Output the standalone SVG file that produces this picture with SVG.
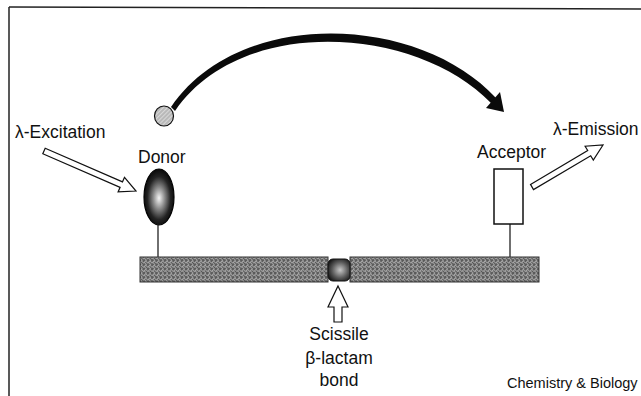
<svg xmlns="http://www.w3.org/2000/svg" width="641" height="396" viewBox="0 0 641 396">
<style>
text{font-family:"Liberation Sans",Arial,Helvetica,sans-serif;font-size:17.5px;fill:#111}
.small{font-size:14.5px}
.hollow{fill:#fff;stroke:#111;stroke-width:1.2;stroke-linejoin:miter}
.stem{stroke:#222;stroke-width:1.3}
.bar{fill:url(#hatch);stroke:#333;stroke-width:1}
</style>
<defs>
<pattern id="hatch" width="6" height="6" patternUnits="userSpaceOnUse" patternTransform="rotate(45)">
<rect width="6" height="6" fill="#a8a8a8"/>
<line x1="1" y1="0" x2="1" y2="3" stroke="#3a3a3a" stroke-width="1.4"/>
<line x1="4" y1="3" x2="4" y2="6" stroke="#3a3a3a" stroke-width="1.4"/>
<line x1="0" y1="4.5" x2="3" y2="4.5" stroke="#555" stroke-width="1.2"/>
<line x1="3" y1="1.5" x2="6" y2="1.5" stroke="#555" stroke-width="1.2"/>
</pattern>
<pattern id="lighthatch" width="3" height="3" patternUnits="userSpaceOnUse" patternTransform="rotate(45)">
<rect width="3" height="3" fill="#d8d8d8"/>
<line x1="1" y1="0" x2="1" y2="3" stroke="#8a8a8a" stroke-width="0.8"/>
</pattern>
<radialGradient id="donorGrad" cx="0.5" cy="0.52" r="0.55">
<stop offset="0" stop-color="#f6f6f6"/>
<stop offset="0.35" stop-color="#8a8a8a"/>
<stop offset="0.7" stop-color="#242424"/>
<stop offset="1" stop-color="#030303"/>
</radialGradient>
<radialGradient id="bondGrad" cx="0.55" cy="0.5" r="0.6">
<stop offset="0" stop-color="#c8c8c8"/>
<stop offset="0.6" stop-color="#5a5a5a"/>
<stop offset="1" stop-color="#1a1a1a"/>
</radialGradient>
</defs>

<g id="frame">
<line x1="9" y1="7" x2="641" y2="9" stroke="#222" stroke-width="1.5"/>
<line x1="9" y1="7" x2="9" y2="396" stroke="#222" stroke-width="1.5"/>
</g>

<g id="connectors">
<path id="transfer-arc" d="M171,107 C240,6 420,15 496,98 L491,103 C417,26 241,14 175,111 Z" fill="#0a0a0a"/>
<polygon points="504,112 486,108 500,92" fill="#0a0a0a"/>
<polygon id="excitation-arrow" class="hollow" points="45.2,148.25 122.5,181.85 124.5,177.3 136,191 118.1,191.9 120.1,187.35 42.8,153.75"/>
<polygon id="emission-arrow" class="hollow" points="530.5,184.4 587.7,150.5 585.1,146.2 603,145 593.3,160 590.7,155.7 533.5,189.6"/>
<polygon id="scissile-arrow" class="hollow" points="338,286 348,307 342,307 342,322 334,322 334,307 328,307"/>
<line class="stem" x1="158" y1="225" x2="158" y2="257"/>
<line class="stem" x1="510" y1="224" x2="510" y2="257"/>
</g>

<g id="backbone">
<rect class="bar" x="140" y="257" width="188" height="25"/>
<rect class="bar" x="350" y="257" width="189" height="25"/>
</g>

<g id="bond">
<rect x="328" y="259" width="22" height="22" rx="5" fill="url(#bondGrad)" stroke="#111" stroke-width="1"/>
</g>

<g id="donor">
<ellipse cx="159" cy="197" rx="15" ry="28" fill="url(#donorGrad)" stroke="#000" stroke-width="1.2"/>
<text x="138" y="163">Donor</text>
</g>

<g id="small-circle">
<ellipse cx="164" cy="116" rx="9.5" ry="10" fill="url(#lighthatch)" stroke="#111" stroke-width="1.2"/>
</g>

<g id="acceptor">
<rect x="494" y="169" width="29" height="55" fill="#fff" stroke="#111" stroke-width="1.5"/>
<text x="477" y="158">Acceptor</text>
</g>

<g id="labels">
<text x="15" y="138">λ-Excitation</text>
<text x="553" y="135">λ-Emission</text>
<text x="339" y="340" text-anchor="middle">Scissile</text>
<text x="339" y="364" text-anchor="middle">β-lactam</text>
<text x="339" y="386" text-anchor="middle">bond</text>
<text class="small" x="507" y="388">Chemistry &amp; Biology</text>
</g>
</svg>
